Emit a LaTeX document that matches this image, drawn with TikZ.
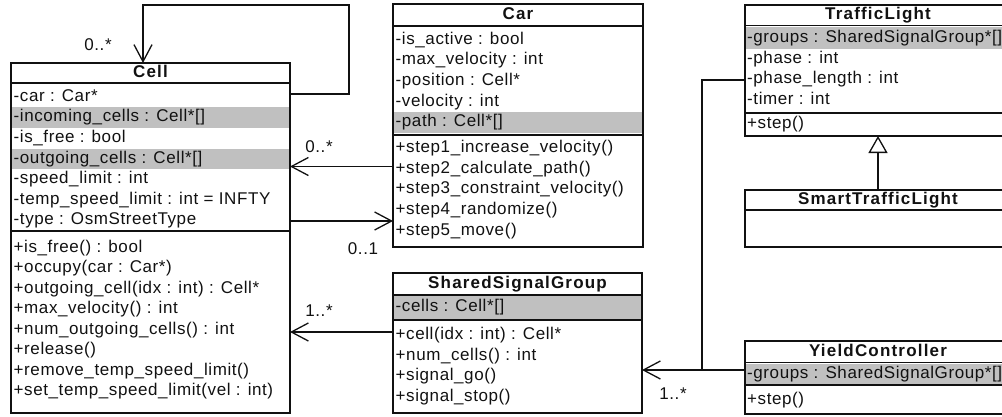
\documentclass[tikz,border=0pt]{standalone}
\usepackage{fontspec}
\setmainfont{Liberation Sans}
\newfontfamily\umlfont[LetterSpace=3.5]{Liberation Sans}
\newfontfamily\umltitlefont[LetterSpace=7]{Liberation Sans}
\usetikzlibrary{arrows.meta,calc}
\definecolor{bandgray}{HTML}{C0C0C0}
\definecolor{ink}{HTML}{111111}
\begin{document}
\begin{tikzpicture}[x=1pt,y=-1pt,
  classbox/.style={draw=ink, line width=1.6pt, anchor=north west, inner sep=0pt, outer sep=0pt},
  sepline/.style={draw=ink, line width=1.2pt},
  band/.style={fill=bandgray},
  member/.style={anchor=west, inner sep=0pt, text=ink, text height=12.5pt, text depth=4pt,
    font=\umlfont\fontsize{17}{20}\selectfont},
  classname/.style={inner sep=0pt, text=ink, text height=12.5pt, text depth=4pt,
    font=\umltitlefont\bfseries\fontsize{17}{20}\selectfont},
  mult/.style={inner sep=0pt, text=ink, font=\umlfont\fontsize{17}{20}\selectfont},
  assoc/.style={draw=ink, line width=1.3pt,
    -{Straight Barb[length=17pt, width=18pt, line width=1.3pt]}},
  link/.style={draw=ink, line width=1.3pt},
  generalize/.style={draw=ink, line width=1.3pt,
    -{Triangle[open, length=17pt, width=19pt, line width=1.3pt, fill=white]}}
]
\useasboundingbox (0,0) rectangle (1002,416);
\clip (0,0) rectangle (1002,416);

% ---------------- Cell ----------------
\fill[band] (11,107.3) rectangle (290,127.9);
\fill[band] (11,148.5) rectangle (290,169.1);
\node[classbox, minimum width=279pt, minimum height=350pt] (cell) at (11,63) {};
\draw[sepline] ($(cell.north west)+(0,20)$) -- ($(cell.north east)+(0,20)$);
\draw[sepline] ($(cell.north west)+(0,168)$) -- ($(cell.north east)+(0,168)$);
\node[classname] (cell-name) at (150.5,73) {Cell};
\node[member] (cell-a1) at (13.5,97)    {-car : Car*};
\node[member] (cell-a2) at (13.5,117.6) {-incoming\_cells : Cell*[]};
\node[member] (cell-a3) at (13.5,138.2) {-is\_free : bool};
\node[member] (cell-a4) at (13.5,158.8) {-outgoing\_cells : Cell*[]};
\node[member] (cell-a5) at (13.5,179.4) {-speed\_limit : int};
\node[member] (cell-a6) at (13.5,200)   {-temp\_speed\_limit : int = INFTY};
\node[member] (cell-a7) at (13.5,220.6) {-type : OsmStreetType};
\node[member] (cell-m1) at (13.5,248)   {+is\_free() : bool};
\node[member] (cell-m2) at (13.5,268.5) {+occupy(car : Car*)};
\node[member] (cell-m3) at (13.5,289)   {+outgoing\_cell(idx : int) : Cell*};
\node[member] (cell-m4) at (13.5,309.5) {+max\_velocity() : int};
\node[member] (cell-m5) at (13.5,330)   {+num\_outgoing\_cells() : int};
\node[member] (cell-m6) at (13.5,350.5) {+release()};
\node[member] (cell-m7) at (13.5,371)   {+remove\_temp\_speed\_limit()};
\node[member] (cell-m8) at (13.5,391.5) {+set\_temp\_speed\_limit(vel : int)};

% ---------------- Car ----------------
\fill[band] (393,112.1) rectangle (643,132.7);
\node[classbox, minimum width=250pt, minimum height=243pt] (car) at (393,4) {};
\draw[sepline] ($(car.north west)+(0,22)$) -- ($(car.north east)+(0,22)$);
\draw[sepline] ($(car.north west)+(0,131)$) -- ($(car.north east)+(0,131)$);
\node[classname] (car-name) at (518,15) {Car};
\node[member] (car-a1) at (395.5,40)    {-is\_active : bool};
\node[member] (car-a2) at (395.5,60.6)  {-max\_velocity : int};
\node[member] (car-a3) at (395.5,81.2)  {-position : Cell*};
\node[member] (car-a4) at (395.5,101.8) {-velocity : int};
\node[member] (car-a5) at (395.5,122.4) {-path : Cell*[]};
\node[member] (car-m1) at (395.5,148.5) {+step1\_increase\_velocity()};
\node[member] (car-m2) at (395.5,169.1) {+step2\_calculate\_path()};
\node[member] (car-m3) at (395.5,189.7) {+step3\_constraint\_velocity()};
\node[member] (car-m4) at (395.5,210.3) {+step4\_randomize()};
\node[member] (car-m5) at (395.5,230.9) {+step5\_move()};

% ---------------- SharedSignalGroup ----------------
\fill[band] (393,296) rectangle (642,318.5);
\node[classbox, minimum width=249pt, minimum height=140pt] (ssg) at (393,273) {};
\draw[sepline] ($(ssg.north west)+(0,22)$) -- ($(ssg.north east)+(0,22)$);
\draw[sepline] ($(ssg.north west)+(0,47)$) -- ($(ssg.north east)+(0,47)$);
\node[classname] (ssg-name) at (517.5,284) {SharedSignalGroup};
\node[member] (ssg-a1) at (395.5,307)   {-cells : Cell*[]};
\node[member] (ssg-m1) at (395.5,335.5) {+cell(idx : int) : Cell*};
\node[member] (ssg-m2) at (395.5,356)   {+num\_cells() : int};
\node[member] (ssg-m3) at (395.5,376.5) {+signal\_go()};
\node[member] (ssg-m4) at (395.5,397)   {+signal\_stop()};

% ---------------- TrafficLight ----------------
\fill[band] (745,26.5) rectangle (1011,48.5);
\node[classbox, minimum width=266pt, minimum height=131pt] (tl) at (745,5) {};
\draw[sepline] ($(tl.north west)+(0,20.5)$) -- ($(tl.north east)+(0,20.5)$);
\draw[sepline] ($(tl.north west)+(0,108)$) -- ($(tl.north east)+(0,108)$);
\node[classname] (tl-name) at (878,15.5) {TrafficLight};
\node[member] (tl-a1) at (747,38)  {-groups : SharedSignalGroup*[]};
\node[member] (tl-a2) at (747,59)  {-phase : int};
\node[member] (tl-a3) at (747,79.5){-phase\_length : int};
\node[member] (tl-a4) at (747,100) {-timer : int};
\node[member] (tl-m1) at (747,124) {+step()};

% ---------------- SmartTrafficLight ----------------
\node[classbox, minimum width=266pt, minimum height=57pt] (stl) at (745,190) {};
\draw[sepline] ($(stl.north west)+(0,20)$) -- ($(stl.north east)+(0,20)$);
\node[classname] (stl-name) at (878,200) {SmartTrafficLight};

% ---------------- YieldController ----------------
\fill[band] (745,363.5) rectangle (1011,385);
\node[classbox, minimum width=266pt, minimum height=73pt] (yc) at (745,341) {};
\draw[sepline] ($(yc.north west)+(0,21.5)$) -- ($(yc.north east)+(0,21.5)$);
\draw[sepline] ($(yc.north west)+(0,44)$) -- ($(yc.north east)+(0,44)$);
\node[classname] (yc-name) at (878,352) {YieldController};
\node[member] (yc-a1) at (747,374) {-groups : SharedSignalGroup*[]};
\node[member] (yc-m1) at (747,400) {+step()};

% ---------------- relations ----------------
% Cell -> Cell (incoming/outgoing neighbours)
\coordinate (loopcorner) at ($(cell.north west)+(132,-58)$);
\draw[assoc] ($(cell.north east)+(0,31)$) -- ++(59,0) |- (loopcorner) -- ($(cell.north west)+(132,0)$);
\node[mult] (m-loop) at (98,45) {0..*};

% Car -> Cell
\draw[assoc] ($(car.north west)+(0,162.5)$) -- ($(cell.north east)+(0,103.5)$);
\node[mult] (m-car-cell) at (319,147) {0..*};

% Cell -> Car
\draw[assoc] ($(cell.north east)+(0,158)$) -- ($(car.north west)+(0,217)$);
\node[mult] (m-cell-car) at (363,249) {0..1};

% SharedSignalGroup -> Cell
\draw[assoc] ($(ssg.north west)+(0,59)$) -- ($(cell.north east)+(0,269)$);
\node[mult] (m-ssg-cell) at (319,311) {1..*};

% TrafficLight / YieldController -> SharedSignalGroup
\coordinate (junction) at (702,370);
\draw[assoc] ($(tl.north west)+(0,75)$) -| (junction) -- (ssg.east |- junction);
\draw[link] ($(yc.north west)+(0,29)$) -- (junction);
\node[mult] (m-tl-ssg) at (673,394) {1..*};

% SmartTrafficLight specializes TrafficLight
\draw[generalize] (stl.north) -- (tl.south);
\end{tikzpicture}
\end{document}
